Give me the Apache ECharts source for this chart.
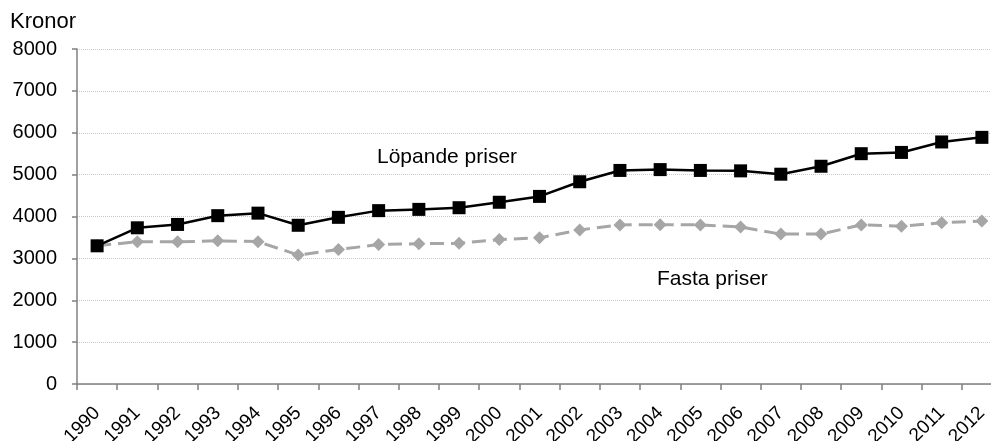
<!DOCTYPE html>
<html><head><meta charset="utf-8">
<script src="https://cdn.jsdelivr.net/npm/echarts@6/dist/echarts.min.js"></script>
<style>html,body{margin:0;padding:0;background:#fff}#c{width:991px;height:441px}</style>
</head><body><div id="c"></div>
<script>
const years = ['1990','1991','1992','1993','1994','1995','1996','1997','1998','1999','2000','2001','2002','2003','2004','2005','2006','2007','2008','2009','2010','2011','2012'];
const lopande = [3300,3730,3810,4020,4080,3790,3980,4140,4170,4210,4340,4480,4830,5100,5120,5100,5090,5010,5200,5500,5530,5780,5890];
const fasta = [3300,3400,3395,3420,3400,3080,3210,3330,3350,3360,3450,3490,3680,3800,3805,3800,3750,3580,3580,3800,3770,3850,3890];
const yTicks = {min:0, max:8000, interval:1000};
const font = '"Liberation Sans", Arial, sans-serif';
const chart = echarts.init(document.getElementById('c'), null, {renderer:'canvas'});
chart.setOption({
  animation:false,
  backgroundColor:'#fff',
  grid:{left:77, top:49, height:335, width:925, containLabel:false, outerBoundsMode:'none'},
  xAxis:{type:'category', data:years, boundaryGap:true,
    axisLine:{lineStyle:{color:'#808080', width:1.5}},
    axisTick:{show:true, length:6, alignWithLabel:false, lineStyle:{color:'#808080', width:1.5}},
    axisLabel:{rotate:45, interval:0, margin:26, fontSize:19, color:'#000', fontFamily:font, hideOverlap:false},
    splitLine:{show:false}},
  yAxis:{type:'value', min:yTicks.min, max:yTicks.max, interval:yTicks.interval,
    axisLine:{show:true, lineStyle:{color:'#808080', width:1.5}},
    axisTick:{show:true, length:5, inside:false, lineStyle:{color:'#808080', width:1.5}},
    axisLabel:{margin:20, fontSize:20, color:'#000', fontFamily:font, formatter:function(v){return String(v);}},
    splitLine:{show:true, lineStyle:{color:'#c8c8c8', type:'dotted', width:1}}},
  series:[
    {name:'Fasta priser', type:'line', data:fasta, symbol:'diamond', symbolSize:13,
      lineStyle:{color:'#a6a6a6', width:3, type:[14,7]},
      itemStyle:{color:'#a6a6a6'}, z:2},
    {name:'Löpande priser', type:'line', data:lopande, symbol:'rect', symbolSize:13,
      lineStyle:{color:'#000', width:2.5},
      itemStyle:{color:'#000'}, z:3}
  ],
  graphic:[
    {type:'text', x:10, y:22, style:{text:'Kronor', font:'22px '+font, fill:'#000', verticalAlign:'middle'}},
    {type:'text', x:377, y:157, style:{text:'Löpande priser', font:'21px '+font, fill:'#000', verticalAlign:'middle'}},
    {type:'text', x:657, y:279, style:{text:'Fasta priser', font:'21px '+font, fill:'#000', verticalAlign:'middle'}}
  ]
});
</script></body></html>
